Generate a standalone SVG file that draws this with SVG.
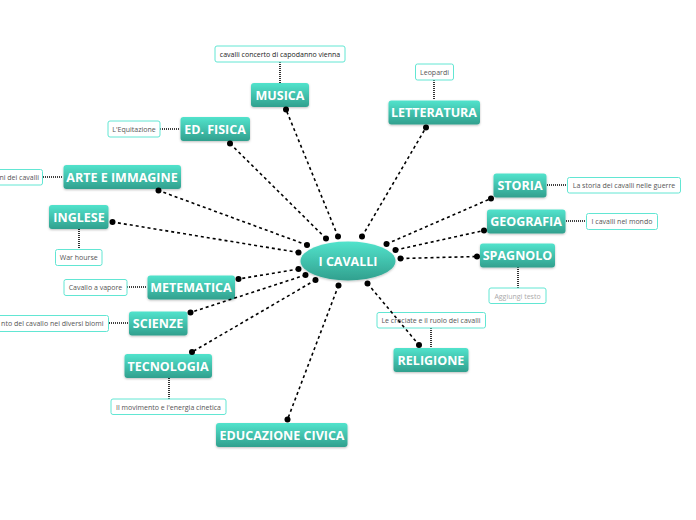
<svg xmlns="http://www.w3.org/2000/svg" width="696" height="520" viewBox="0 0 696 520">
<defs>
<linearGradient id="g" x1="0" y1="0" x2="0" y2="1">
<stop offset="0" stop-color="#52e3cc"/>
<stop offset="1" stop-color="#31a08e"/>
</linearGradient>
<filter id="sh" x="-10%" y="-20%" width="120%" height="150%">
<feDropShadow dx="0" dy="1" stdDeviation="0.8" flood-color="#000" flood-opacity="0.25"/>
</filter>
</defs>
<style>
.n rect{fill:url(#g);filter:url(#sh)}
.n text{font-family:"Open Sans","Noto Sans",sans-serif;font-weight:bold;font-size:12.5px;fill:#fff;text-anchor:middle}
.c rect{fill:#fff;stroke:#62e6d3;stroke-width:1}
.c text{font-family:"Open Sans","Noto Sans",sans-serif;font-size:7px;fill:#555;text-anchor:middle}
.m{stroke:#000;stroke-width:1.6;stroke-dasharray:3 3;fill:none}
.s{stroke:#000;stroke-width:1.6;stroke-dasharray:1 1;fill:none}
.d{fill:#000}
</style>
<rect width="696" height="520" fill="#fff"/>
<g id="callout-connectors">
<line class="s" x1="280" y1="62" x2="280" y2="83"/>
<line class="s" x1="160" y1="129" x2="180" y2="129"/>
<line class="s" x1="43" y1="177" x2="63" y2="177"/>
<line class="s" x1="434" y1="80" x2="434" y2="100"/>
<line class="s" x1="547" y1="185" x2="567" y2="185"/>
<line class="s" x1="566" y1="221" x2="586" y2="221"/>
<line class="s" x1="518" y1="267" x2="518" y2="288"/>
<line class="s" x1="79" y1="229" x2="79" y2="249"/>
<line class="s" x1="127" y1="287" x2="147" y2="287"/>
<line class="s" x1="109" y1="323" x2="129" y2="323"/>
<line class="s" x1="169" y1="378" x2="169" y2="399"/>
<line class="s" x1="431" y1="328" x2="431" y2="348"/>
</g>
<g id="callout-musica" class="c"><rect x="215" y="46" width="130" height="16" rx="2"/><text x="280" y="56.5" fill="#222" style="fill:#222">cavalli concerto di capodanno vienna</text></g>
<g id="callout-edfisica" class="c"><rect x="108" y="121" width="52" height="16" rx="2"/><text x="134" y="131.5">L'Equitazione</text></g>
<g id="callout-arte" class="c"><rect x="-10" y="169.5" width="52.5" height="15.5" rx="2"/><text x="39" y="179.5" style="text-anchor:end">ni dei cavalli</text></g>
<g id="callout-letteratura" class="c"><rect x="415.5" y="64" width="38" height="16" rx="2"/><text x="434.5" y="74.5">Leopardi</text></g>
<g id="callout-storia" class="c"><rect x="567.5" y="177.5" width="113" height="15.5" rx="2"/><text x="624" y="187.5">La storia dei cavalli nelle guerre</text></g>
<g id="callout-geografia" class="c"><rect x="586.5" y="213.5" width="71" height="16" rx="2"/><text x="622" y="224">I cavalli nel mondo</text></g>
<g id="callout-spagnolo" class="c"><rect x="489" y="288" width="57" height="15.5" rx="2"/><text x="517.5" y="298.5" style="fill:#aaa">Aggiungi testo</text></g>
<g id="callout-inglese" class="c"><rect x="55.5" y="249.5" width="46.5" height="16" rx="2"/><text x="78.7" y="260">War hourse</text></g>
<g id="callout-matematica" class="c"><rect x="64" y="279.5" width="63" height="16" rx="2"/><text x="95.5" y="290">Cavallo a vapore</text></g>
<g id="callout-scienze" class="c"><rect x="-10" y="315.5" width="118.5" height="16" rx="2"/><text x="103.5" y="326" style="text-anchor:end">nto del cavallo nei diversi biomi</text></g>
<g id="callout-tecnologia" class="c"><rect x="111" y="399" width="115" height="15.5" rx="2"/><text x="168.5" y="409.5">Il movimento e l'energia cinetica</text></g>
<g id="callout-religione" class="c"><rect x="377" y="312.5" width="108.5" height="15.5" rx="2"/><text x="431" y="323">Le crociate e il ruolo dei cavalli</text></g>
<g id="nodes">
<g id="musica" class="n"><rect x="251" y="83" width="58" height="24" rx="3"/><text x="280" y="99.5">MUSICA</text></g>
<g id="edfisica" class="n"><rect x="180.5" y="117" width="69.5" height="24" rx="3"/><text x="215" y="133.5">ED. FISICA</text></g>
<g id="arte" class="n"><rect x="63.5" y="165" width="117.5" height="24" rx="3"/><text x="122" y="181.5">ARTE E IMMAGINE</text></g>
<g id="letteratura" class="n"><rect x="388.5" y="100.5" width="91.5" height="24" rx="3"/><text x="434" y="117">LETTERATURA</text></g>
<g id="storia" class="n"><rect x="493.5" y="173.5" width="53" height="24" rx="3"/><text x="520" y="190">STORIA</text></g>
<g id="geografia" class="n"><rect x="487" y="209.5" width="78.5" height="24" rx="3"/><text x="526" y="226">GEOGRAFIA</text></g>
<g id="spagnolo" class="n"><rect x="480" y="243.5" width="75" height="24" rx="3"/><text x="517.5" y="260">SPAGNOLO</text></g>
<g id="inglese" class="n"><rect x="49" y="205" width="59.5" height="24" rx="3"/><text x="79" y="221.5">INGLESE</text></g>
<g id="matematica" class="n"><rect x="147.5" y="275.5" width="87.5" height="24" rx="3"/><text x="191" y="292">METEMATICA</text></g>
<g id="scienze" class="n"><rect x="129" y="311.5" width="58.5" height="24" rx="3"/><text x="158" y="328">SCIENZE</text></g>
<g id="tecnologia" class="n"><rect x="124.5" y="354" width="87.5" height="24" rx="3"/><text x="168" y="370.5">TECNOLOGIA</text></g>
<g id="educazione" class="n"><rect x="216" y="423" width="131.5" height="24" rx="3"/><text x="282" y="439.5">EDUCAZIONE CIVICA</text></g>
<g id="religione" class="n"><rect x="393.5" y="348" width="75" height="24" rx="3"/><text x="431" y="364.5">RELIGIONE</text></g>
<g id="centro" class="n"><ellipse cx="348" cy="261" rx="47.5" ry="19.5" fill="url(#g)" filter="url(#sh)"/><text x="348" y="266">I CAVALLI</text></g>
</g>
<g id="connectors">
<line class="m" x1="338" y1="236.5" x2="286" y2="109.5"/>
<line class="m" x1="326" y1="238.5" x2="230" y2="143.5"/>
<line class="m" x1="307" y1="245" x2="158.5" y2="190.5"/>
<line class="m" x1="362" y1="236.5" x2="426" y2="127.5"/>
<line class="m" x1="386.5" y1="244" x2="491" y2="198.5"/>
<line class="m" x1="395.5" y1="250" x2="484" y2="230.5"/>
<line class="m" x1="400.5" y1="258.5" x2="477" y2="256.5"/>
<line class="m" x1="298.5" y1="252.5" x2="112.5" y2="222"/>
<line class="m" x1="298.5" y1="269" x2="238.5" y2="279"/>
<line class="m" x1="305.5" y1="275" x2="190.5" y2="312.5"/>
<line class="m" x1="315.5" y1="280" x2="192" y2="352"/>
<line class="m" x1="338.5" y1="285.5" x2="287.5" y2="419.5"/>
<line class="m" x1="367.5" y1="283.5" x2="419" y2="345"/>
<g class="d">
<circle cx="338" cy="236.5" r="3"/><circle cx="286" cy="109.5" r="3"/>
<circle cx="326" cy="238.5" r="3"/><circle cx="230" cy="143.5" r="3"/>
<circle cx="307" cy="245" r="3"/><circle cx="158.5" cy="190.5" r="3"/>
<circle cx="362" cy="236.5" r="3"/><circle cx="426" cy="127.5" r="3"/>
<circle cx="386.5" cy="244" r="3"/><circle cx="491" cy="198.5" r="3"/>
<circle cx="395.5" cy="250" r="3"/><circle cx="484" cy="230.5" r="3"/>
<circle cx="400.5" cy="258.5" r="3"/><circle cx="477" cy="256.5" r="3"/>
<circle cx="298.5" cy="252.5" r="3"/><circle cx="112.5" cy="222" r="3"/>
<circle cx="298.5" cy="269" r="3"/><circle cx="238.5" cy="279" r="3"/>
<circle cx="305.5" cy="275" r="3"/><circle cx="190.5" cy="312.5" r="3"/>
<circle cx="315.5" cy="280" r="3"/><circle cx="192" cy="352" r="3"/>
<circle cx="338.5" cy="285.5" r="3"/><circle cx="287.5" cy="419.5" r="3"/>
<circle cx="367.5" cy="283.5" r="3"/><circle cx="419" cy="345" r="3"/>
</g>
</g>
</svg>
